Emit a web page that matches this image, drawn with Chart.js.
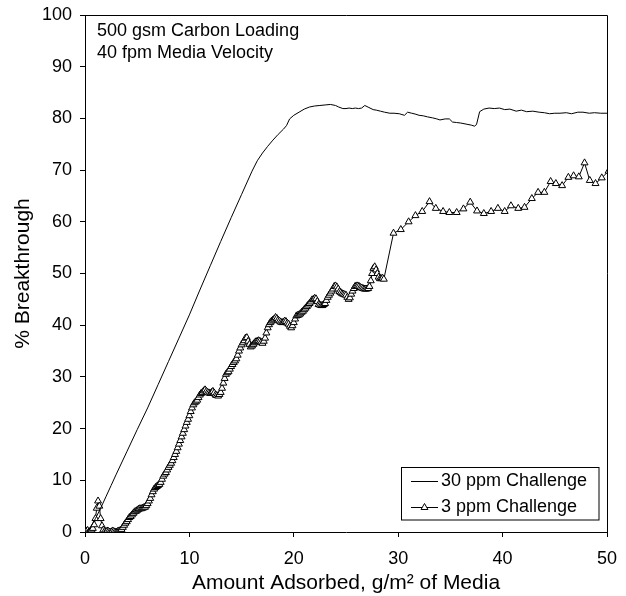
<!DOCTYPE html>
<html><head><meta charset="utf-8">
<script src="https://cdn.jsdelivr.net/npm/chart.js@4/dist/chart.umd.min.js"></script>
<style>html,body{margin:0;padding:0;background:#fff;} #c{display:block;}</style>
</head><body>
<canvas id="c" width="626" height="596"></canvas>
<script>
// ---- data ----
const xTickValues = [0, 10, 20, 30, 40, 50];
const yTickValues = [0, 10, 20, 30, 40, 50, 60, 70, 80, 90, 100];
const seriesNames = ['30 ppm Challenge', '3 ppm Challenge'];
const annotationLines = ['500 gsm Carbon Loading', '40 fpm Media Velocity'];
const xTitle = 'Amount Adsorbed, g/m\u00B2 of Media';
const yTitle = '% Breakthrough';

const challenge30 = [
 [0,0],[0.5,0.8],[1,2.6],[1.5,4.6],[2,6.8],[2.5,9],[3,11.2],[4,15.5],[5,19.8],[6,24],[7,28.5],[8,33],[9,37.5],[10,42],
 [11,46.8],[12,51.5],[13,56.2],[14,60.8],[15,65.3],[16,69.8],[16.5,71.8],[17,73.3],[17.5,74.6],[18,75.8],[18.5,76.9],
 [19,77.9],[19.3,78.6],[19.6,79.9],[20,80.6],[20.5,81.2],[21,81.8],[21.5,82.2],[22,82.4],[22.5,82.5],[23,82.6],[23.5,82.7],
 [24,82.5],[24.3,82.2],[24.7,81.9],[25.0,81.9],[25.3,82.0],[25.6,81.9],[25.9,82.0],[26.2,81.9],[26.5,82.0],[26.8,82.5],
 [27.2,82.1],[27.6,81.7],[27.9,81.6],[28.3,81.4],[28.7,81.2],[29.2,81.0],[29.6,81.0],[30.1,80.9],[30.6,80.6],[30.9,81.2],
 [31.3,81.0],[31.7,80.8],[32.0,80.6],[32.4,80.5],[32.8,80.3],[33.3,80.1],[33.7,79.9],[34.0,79.7],[34.5,79.9],[34.9,79.9],
 [35.2,79.3],[35.6,79.2],[36.0,79.1],[36.5,78.9],[37.0,78.7],[37.3,78.5],[37.5,78.8],[37.8,81.3],[38.2,81.8],[38.7,82.0],
 [39.2,81.9],[39.7,82.0],[40.2,81.7],[40.7,81.8],[41.3,81.4],[41.8,81.6],[42.3,81.3],[42.9,81.4],[43.5,81.2],[44.0,81.1],
 [44.5,80.9],[45.0,81.0],[45.5,81.0],[46.1,81.1],[46.6,80.9],[47.2,81.2],[47.7,81.2],[48.3,81.0],[48.8,81.1],[49.4,81.0],[50,81.0]
];

const challenge3 = [
 [0,0],[0.125,0.2],[0.25,0.3],[0.375,0],[0.5,0.2],[0.625,0.4],[0.75,0.7],[0.875,1.4],[1,2.6],[1.125,4.6],[1.25,6.0],
 [1.375,5.0],[1.5,2.6],[1.625,1.2],[1.75,0.4],[1.875,0.1],[2,0],[2.125,0.2],[2.25,0.1],[2.375,0],[2.5,0],[2.625,0.2],
 [2.75,0.1],[2.875,0],[3,0],[3.125,0.1],[3.25,0.2],[3.375,0.3],[3.5,0.5],[3.625,0.9],[3.75,1.3],[3.875,1.7],[4,2.0],
 [4.125,2.4],[4.25,2.8],[4.375,3.0],[4.5,3.3],[4.625,3.6],[4.75,3.9],[4.875,4.0],[5,4.2],[5.125,4.4],[5.25,4.5],
 [5.375,4.5],[5.5,4.6],[5.625,4.7],[5.75,4.8],[5.875,5.1],[6,5.5],[6.125,6.0],[6.25,6.5],[6.375,7.2],[6.5,7.8],
 [6.625,8.3],[6.75,8.6],[6.875,8.8],[7,9.0],[7.125,9.2],[7.25,9.6],[7.375,10.2],[7.5,10.8],[7.625,11.2],[7.75,11.5],
 [7.875,12.0],[8,12.5],[8.125,12.9],[8.25,13.3],[8.375,13.8],[8.5,14.4],[8.625,15.0],[8.75,15.6],[8.875,16.3],[9,17.0],
 [9.125,17.7],[9.25,18.4],[9.375,19.1],[9.5,19.8],[9.625,20.5],[9.75,21.2],[9.875,21.8],[10,22.5],[10.125,23.3],
 [10.25,24.0],[10.375,24.6],[10.5,25.0],[10.625,25.2],[10.75,25.5],[10.875,26.0],[11,26.5],[11.125,26.8],[11.25,27.0],
 [11.375,27.3],[11.5,27.5],[11.625,27.2],[11.75,27.0],[11.875,26.9],[12,26.8],[12.125,27.0],[12.25,27.2],[12.375,26.9],
 [12.5,26.5],[12.625,26.4],[12.75,26.3],[12.875,26.6],[13,27.0],[13.125,27.8],[13.25,28.8],[13.375,29.7],[13.5,30.5],
 [13.625,30.8],[13.75,31.0],[13.875,31.5],[14,32.0],[14.125,32.4],[14.25,32.8],[14.375,33.1],[14.5,33.5],[14.625,34.2],
 [14.75,35.0],[14.875,35.6],[15,36.2],[15.125,36.6],[15.25,37.0],[15.375,37.5],[15.5,37.6],[15.625,36.9],[15.75,36.3],
 [15.875,35.8],[16,36.0],[16.125,36.3],[16.25,36.6],[16.375,36.8],[16.5,36.9],[16.625,37.0],[16.75,36.9],[16.875,36.7],
 [17,36.5],[17.125,36.9],[17.25,37.5],[17.375,38.5],[17.5,39.5],[17.625,40.1],[17.75,40.5],[17.875,40.8],[18,41.0],
 [18.125,41.2],[18.25,41.5],[18.375,41.3],[18.5,41.0],[18.625,40.8],[18.75,40.6],[18.875,40.5],[19,40.6],[19.125,40.8],
 [19.25,40.7],[19.375,40.4],[19.5,40.2],[19.625,39.8],[19.75,39.5],[19.875,39.9],[20,40.5],[20.125,41.2],[20.25,41.8],
 [20.375,41.9],[20.5,42.0],[20.625,42.2],[20.75,42.5],[20.875,42.7],[21,43.0],[21.125,43.3],[21.25,43.6],[21.375,43.9],
 [21.5,44.2],[21.625,44.5],[21.75,44.9],[21.875,45.0],[22,45.2],[22.125,45.1],[22.25,44.6],[22.375,44.0],[22.5,43.9],
 [22.625,43.8],[22.75,43.8],[22.875,44.0],[23,44.2],[23.125,44.8],[23.25,45.4],[23.375,45.8],[23.5,46.2],[23.625,46.6],
 [23.75,47.0],[23.875,47.5],[24,47.6],[24.125,47.4],[24.25,47.0],[24.375,46.5],[24.5,46.3],[24.625,46.1],[24.75,46.0],
 [24.875,45.9],[25,45.8],[25.125,45.4],[25.25,45.0],[25.375,45.3],[25.5,46.0],[25.625,46.6],[25.75,47.1],[25.875,47.5],
 [26,47.6],[26.125,47.6],[26.25,47.5],[26.375,47.3],[26.5,47.2],[26.625,47.1],[26.75,47.0],[26.875,47.0],[27,47.0],
 [27.125,47.1],[27.25,47.5],[27.375,48.6],[27.5,50.0],[27.625,51.0],[27.75,51.3],[27.875,50.7],[28,50.0],[28.125,49.3],
 [28.25,49.0],[28.375,49.0],[28.5,49.1],[28.625,48.9],
 [29.55,57.8],[30.25,58.5],[31.0,60.0],[31.65,61.2],[32.3,62.0],[33.0,63.9],[33.6,62.6],[34.3,62.0],[34.9,61.8],
 [35.6,61.8],[36.25,62.5],[36.9,63.8],[37.55,62.1],[38.2,61.6],[38.9,62.0],[39.55,62.6],[40.2,62.0],[40.8,63.1],
 [41.5,62.6],[42.1,62.8],[42.8,64.5],[43.4,65.7],[44.0,65.7],[44.6,67.8],[45.1,67.4],[45.7,67.0],[46.3,68.6],
 [46.8,68.9],[47.3,68.7],[47.85,71.4],[48.35,68.0],[48.9,67.4],[49.5,68.5],[50.15,69.8]
];

// ---- drawing ----
const FONT = '"Liberation Sans", Arial, Helvetica, sans-serif';
Chart.defaults.font.family = FONT;
Chart.defaults.color = '#000';

const toXY = arr => arr.map(p => ({x: p[0], y: p[1]}));

const extras = {
  id: 'extras',
  afterDatasetsDraw(chart) {
    const {ctx, chartArea: a} = chart;
    ctx.save();
    // top & right frame lines
    ctx.strokeStyle = '#000';
    ctx.lineWidth = 1;
    ctx.beginPath();
    ctx.moveTo(a.left, a.top + 0.5);
    ctx.lineTo(a.right + 0.5, a.top + 0.5);
    ctx.lineTo(a.right + 0.5, a.bottom);
    ctx.stroke();
    // annotation
    ctx.fillStyle = '#000';
    ctx.font = '18px ' + FONT;
    ctx.textAlign = 'left';
    ctx.textBaseline = 'alphabetic';
    annotationLines.forEach((t, i) => ctx.fillText(t, a.left + 12, a.top + 21 + i * 21.5));
    // legend box
    const bx = 401.5, by = 467.5, bw = 197.5, bh = 52.5;
    ctx.fillStyle = '#fff';
    ctx.fillRect(bx, by, bw, bh);
    ctx.strokeStyle = '#000';
    ctx.strokeRect(bx, by, bw, bh);
    const rows = [481.5, 507.5];
    seriesNames.forEach((name, i) => {
      const y = rows[i];
      ctx.beginPath();
      ctx.moveTo(411, y); ctx.lineTo(438, y);
      ctx.strokeStyle = '#000'; ctx.lineWidth = 1; ctx.stroke();
      if (i === 1) {
        ctx.fillStyle = '#fff'; ctx.strokeStyle = '#000';
        Chart.helpers.drawPoint(ctx, {pointStyle: 'triangle', radius: 4, borderWidth: 1, rotation: 0}, 424.5, y);
      }
      ctx.fillStyle = '#000';
      ctx.font = '18px ' + FONT;
      ctx.textBaseline = 'middle';
      ctx.fillText(name, 441, y);
    });
    ctx.restore();
  }
};

const zeroPad = s => { s.paddingLeft = 0; s.paddingRight = 0; s.paddingTop = 0; s.paddingBottom = 0; };

new Chart(document.getElementById('c'), {
  type: 'scatter',
  data: {
    datasets: [
      {
        label: seriesNames[0], data: toXY(challenge30), showLine: true,
        borderColor: '#000', borderWidth: 1, pointRadius: 0, tension: 0
      },
      {
        label: seriesNames[1], data: toXY(challenge3), showLine: true,
        borderColor: '#000', borderWidth: 1, tension: 0,
        pointStyle: 'triangle', pointRadius: 4, pointBorderWidth: 1,
        pointBackgroundColor: '#fff', pointBorderColor: '#000'
      }
    ]
  },
  options: {
    responsive: false, animation: false, devicePixelRatio: 1,
    layout: {padding: {left: 0, top: 15, right: 19, bottom: 0}},
    plugins: {legend: {display: false}, tooltip: {enabled: false}},
    scales: {
      x: {
        type: 'linear', min: 0, max: 50,
        afterBuildTicks: s => { s.ticks = xTickValues.map(v => ({value: v})); },
        afterFit: s => { s.height = 64; zeroPad(s); },
        ticks: {font: {size: 18}, color: '#000', padding: 11, maxRotation: 0},
        grid: {drawOnChartArea: false, drawTicks: true, tickLength: 5, color: '#000'},
        border: {color: '#000', width: 1},
        title: {display: true, text: xTitle, font: {size: 21, lineHeight: 1.0}, color: '#000', padding: {top: 0, bottom: 2}}
      },
      y: {
        type: 'linear', min: 0, max: 100,
        afterBuildTicks: s => { s.ticks = yTickValues.map(v => ({value: v})); },
        afterFit: s => { s.width = 85; zeroPad(s); },
        ticks: {font: {size: 18}, color: '#000', padding: 8},
        grid: {drawOnChartArea: false, drawTicks: true, tickLength: 5, color: '#000'},
        border: {color: '#000', width: 1},
        title: {display: true, text: yTitle, font: {size: 21, lineHeight: 1.0}, color: '#000', padding: {top: 13, bottom: 0}}
      }
    }
  },
  plugins: [extras]
});
</script>
</body></html>
